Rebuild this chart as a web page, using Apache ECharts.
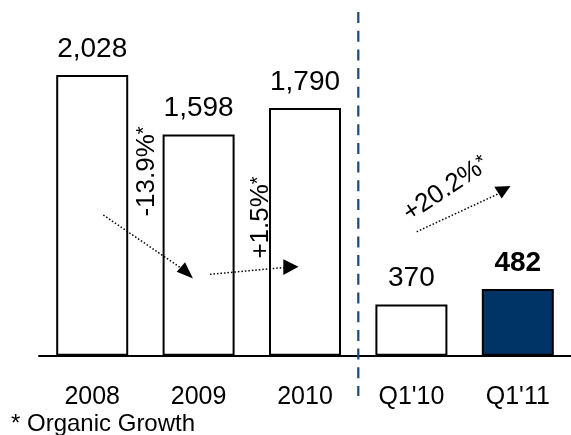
<!DOCTYPE html>
<html>
<head>
<meta charset="utf-8">
<script src="https://cdn.jsdelivr.net/npm/echarts@6/dist/echarts.min.js"></script>
<style>
html,body{margin:0;padding:0;background:#fff;}
#c{width:571px;height:435px;}
</style>
</head>
<body>
<div id="c"></div>
<script>
const categories = ['2008', '2009', '2010', "Q1'10", "Q1'11"];
const values = [2028, 1598, 1790, 370, 482];
const valueLabels = ['2,028', '1,598', '1,790', '370', '482'];
const growthLabels = ['-13.9%', '+1.5%', '+20.2%'];
const footnote = '* Organic Growth';

const FONT = '"Liberation Sans", Arial, sans-serif';
const chart = echarts.init(document.getElementById('c'), null, {renderer: 'canvas'});

const barData = values.map((v, i) => {
  const highlight = i === values.length - 1;
  return {
    value: v,
    itemStyle: {color: highlight ? '#003366' : '#ffffff', borderColor: '#000', borderWidth: 2},
    label: {fontWeight: highlight ? 'bold' : 'normal'}
  };
});

function rt(t) { return '{a|' + t + '}{b|*}'; }
const rich = {
  a: {fontSize: 26, fontFamily: FONT, color: '#000'},
  b: {fontSize: 20, fontFamily: FONT, color: '#000', verticalAlign: 'top'}
};

const Z = 100;
chart.setOption({
  animation: false,
  grid: {left: 39, right: -5, top: 23.5, bottom: 79.3, containLabel: false},
  xAxis: {
    type: 'category',
    data: categories,
    axisLine: {show: true, lineStyle: {color: '#000', width: 2}},
    axisTick: {show: false},
    axisLabel: {fontSize: 25, fontFamily: FONT, color: '#000', margin: 29}
  },
  yAxis: {
    type: 'value', min: 0, max: 2400, show: false,
    splitLine: {show: false}
  },
  series: [{
    type: 'bar',
    data: barData,
    barWidth: 72,
    label: {
      show: true, position: 'top', distance: 12,
      fontSize: 28, fontFamily: FONT, color: '#000',
      formatter: p => valueLabels[p.dataIndex]
    }
  }],
  graphic: [
    {type: 'line', z: Z, shape: {x1: 358.3, y1: 12, x2: 358.3, y2: 396},
     style: {stroke: '#1F4877', lineWidth: 2.2, lineDash: [11, 7.7]}},
    {type: 'line', z: Z, shape: {x1: 103.3, y1: 215, x2: 181, y2: 268},
     style: {stroke: '#000', lineWidth: 1.5, lineDash: [1.5, 2]}},
    {type: 'polygon', z: Z, shape: {points: [[176.7, 271.7], [185, 262.3], [193, 278.5]]}, style: {fill: '#000'}},
    {type: 'line', z: Z, shape: {x1: 210, y1: 274.3, x2: 284, y2: 267.5},
     style: {stroke: '#000', lineWidth: 1.5, lineDash: [1.5, 2]}},
    {type: 'polygon', z: Z, shape: {points: [[283.3, 259.3], [283.3, 275], [298.5, 266.7]]}, style: {fill: '#000'}},
    {type: 'line', z: Z, shape: {x1: 416.7, y1: 231.7, x2: 498, y2: 194},
     style: {stroke: '#000', lineWidth: 1.5, lineDash: [1.5, 2]}},
    {type: 'polygon', z: Z, shape: {points: [[494.3, 186.7], [510.5, 186], [501.7, 198.5]]}, style: {fill: '#000'}},
    {type: 'text', z: Z, x: 147, y: 171.5, rotation: Math.PI / 2,
     style: {text: rt(growthLabels[0]), rich: rich, align: 'center', verticalAlign: 'middle'}},
    {type: 'text', z: Z, x: 261, y: 217.5, rotation: Math.PI / 2,
     style: {text: rt(growthLabels[1]), rich: rich, align: 'center', verticalAlign: 'middle'}},
    {type: 'text', z: Z, x: 446, y: 189, rotation: 0.585,
     style: {text: rt(growthLabels[2]), rich: rich, align: 'center', verticalAlign: 'middle'}},
    {type: 'text', z: Z, x: 11, y: 424.5,
     style: {text: footnote, fontSize: 24, fontFamily: FONT, fill: '#000', align: 'left', verticalAlign: 'middle'}}
  ]
});
</script>
</body>
</html>
